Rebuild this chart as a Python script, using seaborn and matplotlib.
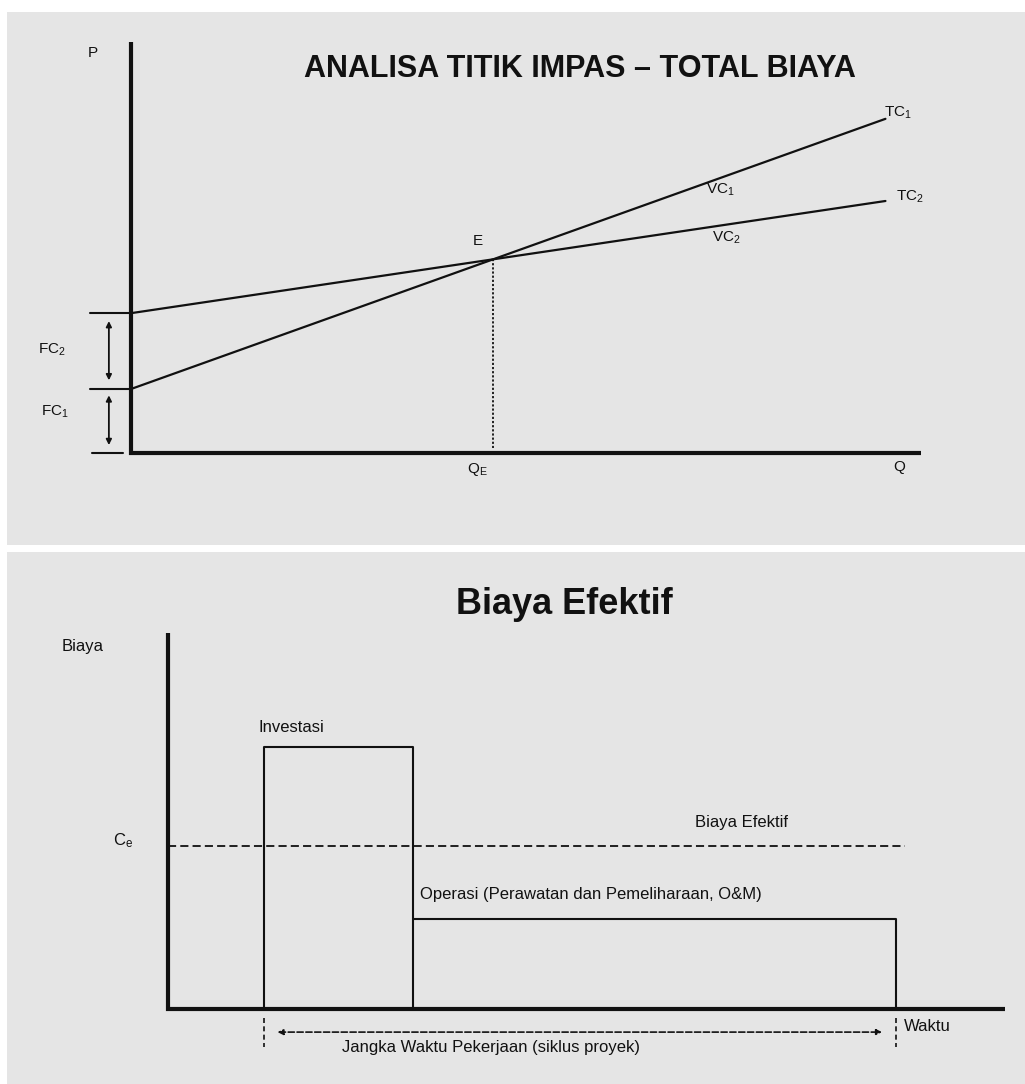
import numpy as np
import pandas as pd
import matplotlib
matplotlib.use("Agg")
import matplotlib.pyplot as plt
import seaborn as sns

# analisa titik impas (satuan bebas)
q_garis = [0.0, 9.55]        # Q awal / akhir garis TC
fc = [0.81, 1.77]            # FC1, FC2
tc_akhir = [4.23, 3.19]      # TC1, TC2 pada Q akhir
q_sumbu = 10.0
p_sumbu = 5.2

# biaya efektif
t_investasi = [3.2, 8.15]    # mulai / selesai investasi
t_om_akhir = 24.25
t_garis_efektif = 24.55
biaya_investasi = 8.75
biaya_om = 3.0
biaya_efektif = 5.45
t_sumbu = 27.9
c_sumbu = 12.55

sns.set_theme(style="white")
plt.rcParams["font.family"] = ["Liberation Sans", "DejaVu Sans"]
plt.rcParams["mathtext.fontset"] = "custom"
plt.rcParams["mathtext.rm"] = "Liberation Sans"
plt.rcParams["mathtext.it"] = "Liberation Sans"
plt.rcParams["mathtext.bf"] = "Liberation Sans:bold"

W, H = 1025, 1084
BG = "#e5e5e5"
INK = "#111111"
fig = plt.figure(figsize=(W / 100, H / 100), dpi=100, facecolor="white")


def panel(x0, y0, x1, y1):
    ax = fig.add_axes([x0 / W, 1 - y1 / H, (x1 - x0) / W, (y1 - y0) / H])
    ax.set_facecolor(BG)
    ax.set_xticks([])
    ax.set_yticks([])
    for s in ax.spines.values():
        s.set_visible(False)
    return ax


# ---------- panel atas ----------
ax1 = panel(7, 12, 1025, 545)
ax1.set_xlim((7 - 131) / 79, (1025 - 131) / 79)
ax1.set_ylim((453 - 545) / 79, (453 - 12) / 79)

q = np.array(q_garis)
tc1 = np.array([fc[0], tc_akhir[0]])
tc2 = np.array([fc[1], tc_akhir[1]])
df = pd.DataFrame({"Q": np.concatenate([q, q]),
                   "P": np.concatenate([tc1, tc2]),
                   "kurva": ["TC1"] * 2 + ["TC2"] * 2})
sns.lineplot(data=df, x="Q", y="P", units="kurva", estimator=None,
             color=INK, lw=1.6, ax=ax1, legend=False)
ax1.set_xlabel("")
ax1.set_ylabel("")

vc1 = (tc1[1] - tc1[0]) / (q[1] - q[0])
vc2 = (tc2[1] - tc2[0]) / (q[1] - q[0])
qe = (fc[1] - fc[0]) / (vc1 - vc2)
pe = fc[0] + vc1 * qe

# sumbu
ax1.plot([0, 0, q_sumbu], [p_sumbu, 0, 0], color=INK, lw=3,
         solid_joinstyle="miter", solid_capstyle="butt")
ax1.plot([qe, qe], [pe, 0.06], color=INK, lw=1.3, ls=(0, (1.2, 1.1)))

# garis FC dan panah
for f in fc:
    ax1.plot([-0.52, 0], [f, f], color=INK, lw=1.5)
ax1.plot([-0.49, -0.1], [0, 0], color=INK, lw=1.5)
for lo, hi in [(0.1, fc[0] - 0.08), (fc[0] + 0.11, fc[1] - 0.1)]:
    ax1.annotate("", xy=(-0.28, hi), xytext=(-0.28, lo),
                 arrowprops=dict(arrowstyle="<|-|>", color=INK, lw=1.3,
                                 mutation_scale=8, shrinkA=0, shrinkB=0))

fs = 11
ax1.text(5.68, (453 - 69) / 79, "ANALISA TITIK IMPAS – TOTAL BIAYA",
         fontsize=22, weight="bold", ha="center", va="center", color=INK)
ax1.text(-0.48, 5.06, "P", fontsize=fs, ha="center", va="center", color=INK)
ax1.text(-1.0, 1.30, "FC$_2$", fontsize=fs, ha="center", va="center", color=INK)
ax1.text(-0.96, 0.52, "FC$_1$", fontsize=fs, ha="center", va="center", color=INK)
ax1.text(qe - 0.19, pe + 0.23, "E", fontsize=fs, ha="center", va="center", color=INK)
ax1.text(qe - 0.2, -0.215, "Q$_E$", fontsize=fs, ha="center", va="center", color=INK)
ax1.text(9.73, -0.18, "Q", fontsize=fs, ha="center", va="center", color=INK)
ax1.text(9.71, 4.30, "TC$_1$", fontsize=fs, ha="center", va="center", color=INK)
ax1.text(9.86, 3.24, "TC$_2$", fontsize=fs, ha="center", va="center", color=INK)
ax1.text(7.46, 3.33, "VC$_1$", fontsize=fs, ha="center", va="center", color=INK)
ax1.text(7.53, 2.72, "VC$_2$", fontsize=fs, ha="center", va="center", color=INK)

# ---------- panel bawah ----------
ax2 = panel(7, 552, 1025, 1084)
ax2.set_xlim((7 - 168) / 30, (1025 - 168) / 30)
ax2.set_ylim((1009 - 1084) / 30, (1009 - 552) / 30)

t0, t1 = t_investasi
ax2.plot([0, 0, t_sumbu], [c_sumbu, 0, 0], color=INK, lw=3,
         solid_joinstyle="miter", solid_capstyle="butt")
ax2.plot([t0, t0, t1, t1], [0, biaya_investasi, biaya_investasi, 0],
         color=INK, lw=1.5)
ax2.plot([t1, t_om_akhir, t_om_akhir], [biaya_om, biaya_om, 0],
         color=INK, lw=1.5)
ax2.plot([0, t_garis_efektif], [biaya_efektif, biaya_efektif],
         color=INK, lw=1.3, ls=(0, (4.5, 2.3)))

for t in [t0, t_om_akhir]:
    ax2.plot([t, t], [-0.3, -1.27], color=INK, lw=1.2, ls=(0, (3, 2)))
ax2.annotate("", xy=(t_om_akhir - 0.45, -0.77), xytext=(t0 + 0.45, -0.77),
             arrowprops=dict(arrowstyle="<|-|>", color=INK, lw=1.2, ls="--",
                             mutation_scale=8, shrinkA=0, shrinkB=0))

fb = 12
ax2.text(13.2, 13.5, "Biaya Efektif", fontsize=26, weight="bold",
         ha="center", va="center", color=INK)
ax2.text(-2.83, 12.07, "Biaya", fontsize=fb, ha="center", va="center", color=INK)
ax2.text(-1.5, 5.6, "C$_e$", fontsize=fb, ha="center", va="center", color=INK)
ax2.text(t0 - 0.2, 9.4, "Investasi", fontsize=fb, ha="left", va="center", color=INK)
ax2.text(19.1, 6.23, "Biaya Efektif", fontsize=fb, ha="center", va="center", color=INK)
ax2.text(t1 + 0.25, 3.83, "Operasi (Perawatan dan Pemeliharaan, O&M)",
         fontsize=fb, ha="left", va="center", color=INK)
ax2.text(10.75, -1.27, "Jangka Waktu Pekerjaan (siklus proyek)",
         fontsize=fb, ha="center", va="center", color=INK)
ax2.text(24.53, -0.57, "Waktu", fontsize=fb, ha="left", va="center", color=INK)

fig.savefig("out.png", dpi=100, facecolor="white")
